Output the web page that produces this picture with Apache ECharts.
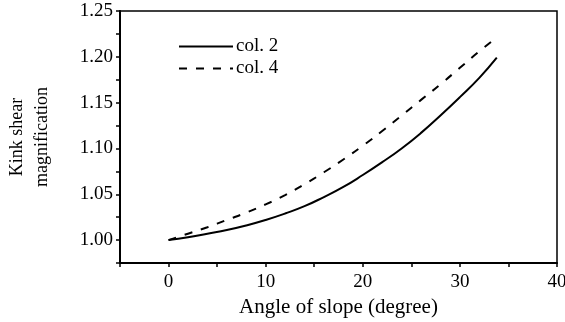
<!DOCTYPE html>
<html>
<head>
<meta charset="utf-8">
<script src="https://cdn.jsdelivr.net/npm/echarts@6/dist/echarts.min.js"></script>
<style>
  html, body { margin: 0; padding: 0; background: #fff; }
  #chart { width: 565px; height: 322px; }
</style>
</head>
<body>
<div id="chart"></div>
<script>
// angle of slope (degree) and magnification
const anglesCol2 = [0, 2, 4, 6, 8, 10, 12, 14, 16, 18, 20, 22, 24, 26, 28, 30, 32, 33.8];
const valuesCol2 = [1.000, 1.003, 1.007, 1.011, 1.016, 1.022, 1.029, 1.037, 1.047, 1.058, 1.071, 1.085, 1.100, 1.117, 1.136, 1.156, 1.177, 1.199];

const anglesCol4 = [0, 2, 4, 6, 8, 10, 12, 14, 16, 18, 20, 22, 24, 26, 28, 30, 32, 33.9];
const valuesCol4 = [1.000, 1.007, 1.014, 1.022, 1.030, 1.039, 1.049, 1.061, 1.074, 1.088, 1.103, 1.119, 1.136, 1.153, 1.170, 1.188, 1.206, 1.222];

const seriesNames = ['col. 2', 'col. 4'];
const xTickLabels = [0, 10, 20, 30, 40];
const yTickLabels = [1.00, 1.05, 1.10, 1.15, 1.20, 1.25];

const font = 'Liberation Serif';

const pair = (xs, ys) => xs.map((x, i) => [x, ys[i]]);

const chart = echarts.init(document.getElementById('chart'), null, { renderer: 'canvas' });

const option = {
  backgroundColor: '#fff',
  animation: false,
  grid: {
    left: 120,
    right: 8,
    top: 11,
    bottom: 59,
    show: true,
    borderColor: '#000',
    borderWidth: 1.5,
    containLabel: false,
    outerBoundsMode: 'none'
  },
  legend: {
    orient: 'vertical',
    left: 173,
    top: 32,
    itemWidth: 54,
    itemHeight: 14,
    itemGap: 3,
    data: seriesNames,
    itemStyle: { opacity: 0 },
    textStyle: { fontFamily: font, fontSize: 19, color: '#000', padding: [0, 0, 0, -2] }
  },
  xAxis: {
    type: 'value',
    min: -5,
    max: 40,
    interval: 5,
    name: 'Angle of slope (degree)',
    nameLocation: 'middle',
    nameGap: 26,
    nameTextStyle: { fontFamily: font, fontSize: 21, color: '#000' },
    axisLine: { onZero: false, lineStyle: { color: '#000', width: 2 } },
    axisTick: { show: true, length: 4, lineStyle: { color: '#000', width: 1.5 } },
    axisLabel: {
      fontFamily: font,
      fontSize: 19,
      color: '#000',
      margin: 10,
      formatter: v => (xTickLabels.indexOf(v) >= 0 ? String(v) : '')
    },
    splitLine: { show: false }
  },
  yAxis: {
    type: 'value',
    min: 0.975,
    max: 1.25,
    interval: 0.025,
    name: 'Kink shear\nmagnification',
    nameLocation: 'middle',
    nameGap: 65,
    nameRotate: 90,
    nameTextStyle: { fontFamily: font, fontSize: 18, color: '#000', lineHeight: 25 },
    axisLine: { show: true, onZero: false, lineStyle: { color: '#000', width: 2 } },
    axisTick: { show: true, length: 4, lineStyle: { color: '#000', width: 1.5 } },
    axisLabel: {
      fontFamily: font,
      fontSize: 19,
      color: '#000',
      margin: 7,
      formatter: v => {
        const hit = yTickLabels.some(t => Math.abs(t - v) < 1e-6);
        return hit ? v.toFixed(2) : '';
      }
    },
    splitLine: { show: false }
  },
  series: [
    {
      name: seriesNames[0],
      type: 'line',
      smooth: true,
      symbol: 'none',
      data: pair(anglesCol2, valuesCol2),
      lineStyle: { color: '#000', width: 2 },
      itemStyle: { color: '#000' }
    },
    {
      name: seriesNames[1],
      type: 'line',
      smooth: true,
      symbol: 'none',
      data: pair(anglesCol4, valuesCol4),
      lineStyle: { color: '#000', width: 2, type: [8, 9] },
      itemStyle: { color: '#000' }
    }
  ]
};

chart.setOption(option);
</script>
</body>
</html>
